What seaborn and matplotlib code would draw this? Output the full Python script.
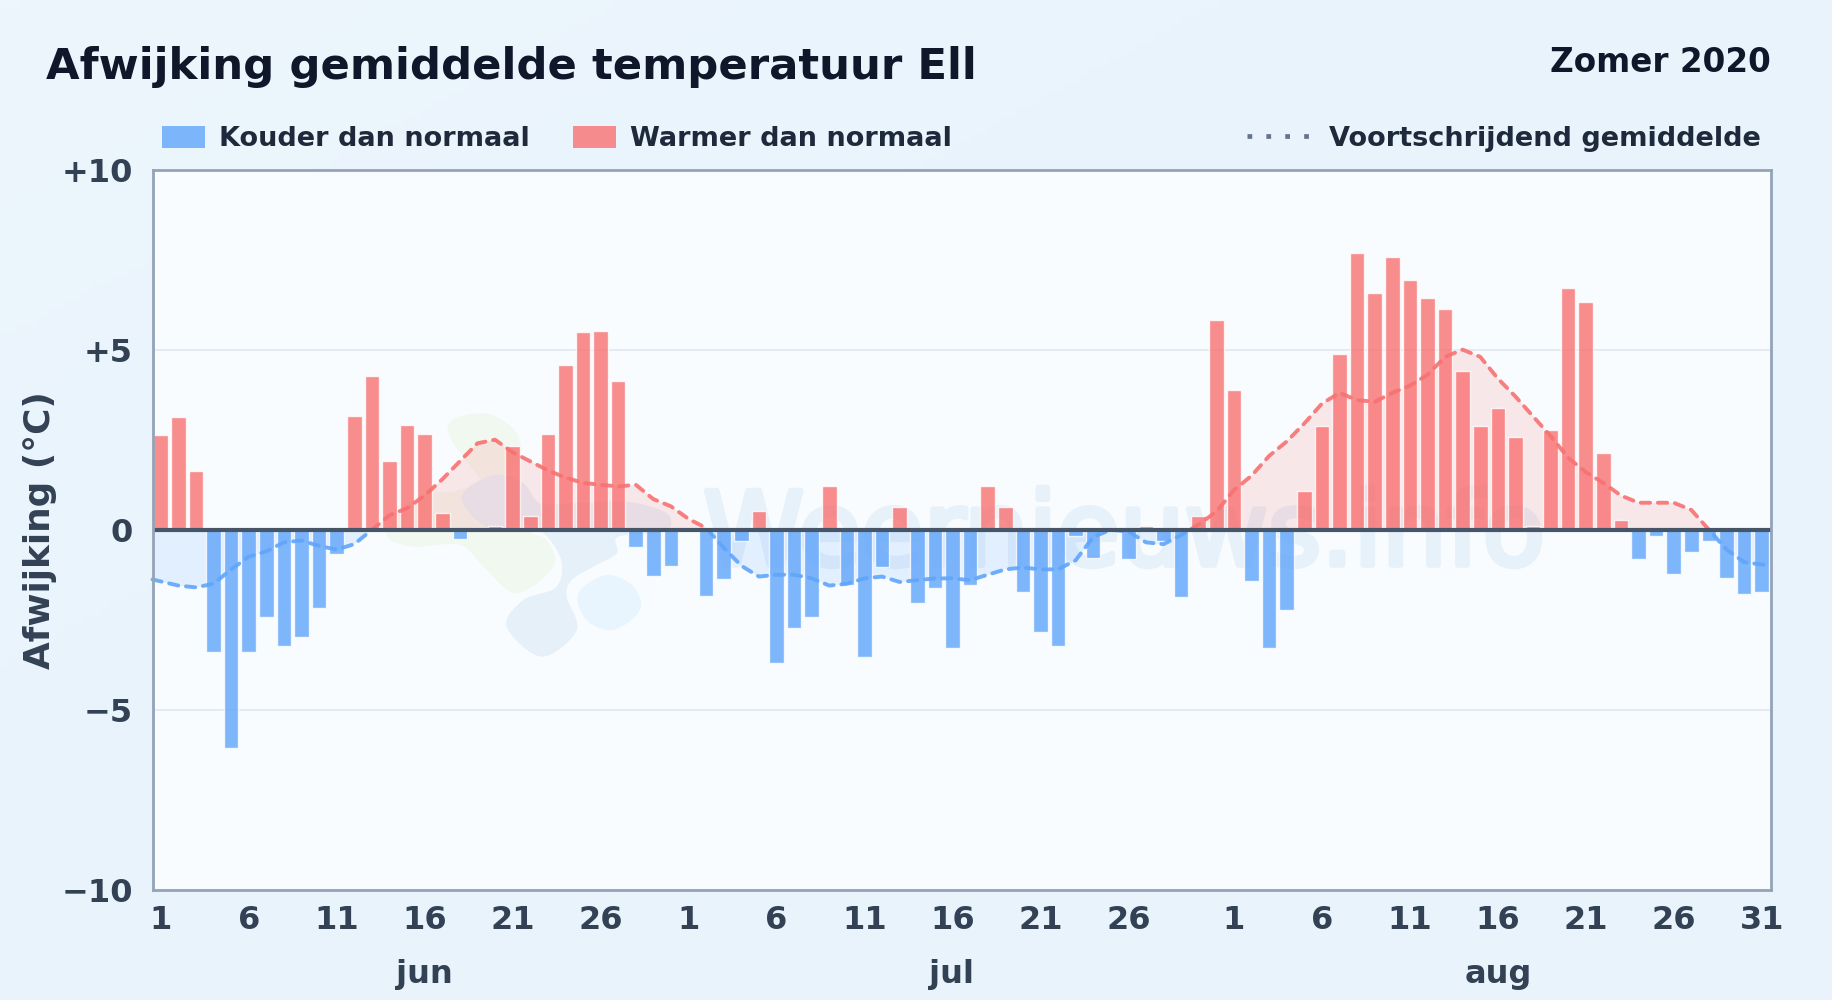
import numpy as np
import pandas as pd
import matplotlib
matplotlib.use("Agg")
import matplotlib.pyplot as plt
import matplotlib.patheffects as pe
import seaborn as sns
from matplotlib.lines import Line2D
from matplotlib.patches import Patch, PathPatch, Rectangle
from matplotlib.path import Path
from matplotlib.colors import LinearSegmentedColormap
from matplotlib.transforms import IdentityTransform

jun_dev = [2.63, 3.12, 1.62, -3.4, -6.05, -3.4, -2.43, -3.24, -2.98, -2.18, -0.67, 3.17, 4.28, 1.92, 2.92,
           2.67, 0.47, -0.27, 0, 0.1, 2.32, 0.37, 2.67, 4.58, 5.48, 5.53, 4.12, -0.47, -1.28, -1.02]
jul_dev = [0, -1.83, -1.38, -0.32, 0.52, -3.7, -2.74, -2.43, 1.22, -1.53, -3.53, -1.03, 0.62, -2.03, -1.63,
           -3.28, -1.53, 1.22, 0.62, -1.73, -2.83, -3.23, -0.17, -0.78, 0, -0.82, 0.1, -0.32, -1.88, 0.37, 5.82]
aug_dev = [3.87, -1.42, -3.28, -2.23, 1.07, 2.87, 4.87, 7.67, 6.57, 7.57, 6.92, 6.43, 6.12, 4.42, 2.87,
           3.37, 2.58, 0.1, 2.77, 6.72, 6.33, 2.12, 0.27, -0.82, -0.17, -1.23, -0.62, -0.32, -1.33, -1.78, -1.73]
jun_avg = [-1.38, -1.55, -1.6, -1.5, -1.1, -0.75, -0.6, -0.35, -0.3, -0.45, -0.55, -0.4, 0.0, 0.4, 0.6,
           0.95, 1.4, 1.9, 2.4, 2.5, 2.15, 1.9, 1.65, 1.45, 1.3, 1.25, 1.2, 1.25, 0.85, 0.65]
jul_avg = [0.3, 0.05, -0.5, -1.0, -1.3, -1.25, -1.25, -1.35, -1.55, -1.5, -1.35, -1.3, -1.45, -1.4, -1.35,
           -1.35, -1.4, -1.25, -1.1, -1.05, -1.1, -1.1, -0.85, -0.2, 0.0, -0.05, -0.35, -0.4, -0.15, 0.15, 0.5]
aug_avg = [1.1, 1.5, 2.05, 2.45, 2.95, 3.5, 3.8, 3.6, 3.55, 3.8, 4.0, 4.3, 4.8, 5.0, 4.8,
           4.2, 3.7, 3.15, 2.6, 2.0, 1.6, 1.3, 0.95, 0.75, 0.75, 0.75, 0.55, 0.0, -0.55, -0.9, -1.0]
month_names = ["jun", "jul", "aug"]
month_lengths = [30, 31, 31]
month_last_tick = [26, 26, 31]
y_ticks = [10, 5, 0, -5, -10]
y_labels = ["+10", "+5", "0", "\u22125", "\u221210"]
title = "Afwijking gemiddelde temperatuur Ell"
subtitle = "Zomer 2020"
ylabel = "Afwijking (\u00b0C)"
cold_label, warm_label, avg_label = "Kouder dan normaal", "Warmer dan normaal", "Voortschrijdend gemiddelde"
watermark = "Weernieuws.info"

BLUE, RED = "#60a5fa", "#f87171"
W, H = 1832, 1000
XMIN, XMAX = -0.47, 91.5
sns.set_theme(style="white")
plt.rcParams["font.family"] = ["DejaVu Sans"]
plt.rcParams["font.weight"] = "bold"

dev = np.array(jun_dev + jul_dev + aug_dev, dtype=float)
avg = np.array(jun_avg + jul_avg + aug_avg, dtype=float)
pos = np.arange(len(dev))
avg_x = pos.astype(float)
avg_x[0], avg_x[-1] = XMIN, XMAX
df = pd.DataFrame({"pos": pos, "dev": dev,
                   "kind": np.where(dev < 0, cold_label, warm_label)})

fig = plt.figure(figsize=(W / 100, H / 100), dpi=100, facecolor="#e9f3fc")
bg = fig.add_axes([0, 0, 1, 1], zorder=-5)
gx, gy = np.meshgrid(np.linspace(0, 1, 200), np.linspace(0, 1, 120))
cmap = LinearSegmentedColormap.from_list("bg", ["#edf6fd", "#e8f3fc", "#eaf3fb"])
bg.imshow((gx + gy) / 2, cmap=cmap, aspect="auto", extent=[0, 1, 1, 0])
bg.axis("off")

L, R, T, B = 152.5, 1770.5, 169.5, 890
ax = fig.add_axes([L / W, 1 - B / H, (R - L) / W, (B - T) / H], facecolor="#f8fcff")


def blob(points, face, edge=None, lw=0):
    pts = np.array(points, dtype=float)
    pts = np.column_stack([360 + pts[:, 0] / 3, H - (390 + pts[:, 1] / 3)])
    n = len(pts)
    verts = [pts[0]]
    codes = [Path.MOVETO]
    for i in range(n):
        p0, p1, p2, p3 = pts[i - 1], pts[i], pts[(i + 1) % n], pts[(i + 2) % n]
        verts += [p1 + (p2 - p0) / 6, p2 - (p3 - p1) / 6, p2]
        codes += [Path.CURVE4] * 3
    patch = PathPatch(Path(verts, codes), facecolor=face, edgecolor=edge or "none", lw=lw, zorder=0.5)
    ax.add_patch(patch)
    patch.set_transform(IdentityTransform())
    patch.set_clip_path(ax.patch)


blob([(265, 130), (370, 70), (470, 130), (465, 230), (300, 300), (170, 320), (80, 430), (160, 470),
      (300, 465), (380, 540), (470, 610), (580, 530), (560, 450), (480, 400)], "#f1f8f0")
blob([(305, 320), (400, 255), (490, 280), (540, 340), (640, 340), (800, 335), (920, 370), (915, 425),
      (775, 440), (770, 490), (700, 530), (635, 570), (620, 620), (650, 720), (545, 800), (440, 710),
      (490, 630), (590, 590), (600, 500), (520, 410), (380, 410)], "#e6f0f9")
blob([(655, 610), (740, 555), (820, 590), (840, 660), (760, 720), (680, 690)], "#e8f5fe")
ax.annotate(watermark, xy=(1124 / W, 1 - 565 / H), xycoords="figure fraction", ha="center", va="baseline",
            fontsize=73.5, fontweight="normal", color="#e7f1fa", zorder=0.6, annotation_clip=False,
            path_effects=[pe.withStroke(linewidth=4, foreground="#e7f1fa")])

ax.fill_between(avg_x, avg, 0, where=avg >= 0, interpolate=True, color=RED, alpha=0.15, lw=0, zorder=1)
ax.fill_between(avg_x, avg, 0, where=avg <= 0, interpolate=True, color=BLUE, alpha=0.15, lw=0, zorder=1)

sns.barplot(data=df, x="pos", y="dev", hue="kind", dodge=False, width=0.83, saturation=1,
            palette={cold_label: BLUE, warm_label: RED}, alpha=0.8, legend=False, ax=ax, zorder=2)

for color, clip_y, clip_h in [(RED, 0, 10), (BLUE, -10, 10)]:
    sns.lineplot(x=avg_x, y=avg, color=color, ax=ax, lw=2.8, alpha=0.9, zorder=3,
                 linestyle=(0, (2.4, 2.0)), dash_capstyle="round", errorbar=None)
    line = ax.lines[-1]
    line.set_clip_path(Rectangle((-1, clip_y), 94, clip_h, transform=ax.transData))

ax.axhline(0, color="#475569", lw=3, zorder=4)
ax.set_xlim(XMIN, XMAX)
ax.set_ylim(-10, 10)
ax.set_xlabel("")
ax.set_ylabel("")
ax.yaxis.grid(True, color="#e2e8f0", lw=1.2)
ax.set_axisbelow(True)
for s in ax.spines.values():
    s.set_visible(True)
    s.set_color("#94a3b8")
    s.set_linewidth(2)
    s.set_zorder(5)

ticks, labels = [], []
start = 0
for n, last in zip(month_lengths, month_last_tick):
    days = list(range(1, last + 1, 5))
    ticks += [start + d - 1 for d in days]
    labels += [str(d) for d in days]
    start += n
ax.set_xticks(ticks, labels)
ax.set_yticks(y_ticks, y_labels)
ax.tick_params(axis="both", length=0, labelsize=23, labelcolor="#334155")
ax.tick_params(axis="x", pad=11)
ax.tick_params(axis="y", pad=14)

fig.text(46 / W, 1 - 67.5 / H, title, fontsize=31.25, color="#0f172a", va="center", ha="left")
fig.text(R / W, 1 - 62 / H, subtitle, fontsize=23.5, color="#0f172a", va="center", ha="right")
fig.text(40 / W, 1 - 530 / H, ylabel, fontsize=25.8, color="#334155", rotation=90, va="center", ha="center")
for name, fx in zip(month_names, [424, 952, 1498]):
    fig.text(fx / W, 1 - 974.5 / H, name, fontsize=23, color="#334155", va="center", ha="center")

leg_kw = dict(frameon=False, fontsize=19.5, labelcolor="#1e293b", handleheight=0.9, borderaxespad=0, borderpad=0)
leg1 = fig.legend(handles=[Patch(color=BLUE, alpha=0.8, lw=0, label=cold_label),
                           Patch(color=RED, alpha=0.8, lw=0, label=warm_label)],
                  loc="center left", bbox_to_anchor=(162 / W, 1 - 139 / H), ncol=2, handlelength=1.6,
                  handletextpad=0.5, columnspacing=1.6, **leg_kw)
leg2 = fig.legend(handles=[Line2D([], [], color="#64748b", lw=3.4, linestyle=(0, (1, 3.0)), label=avg_label)],
                  loc="center right", bbox_to_anchor=(1761 / W, 1 - 139 / H), handlelength=2.3,
                  handletextpad=0.72, **leg_kw)

fig.savefig("out.png", dpi=100, facecolor=fig.get_facecolor())
